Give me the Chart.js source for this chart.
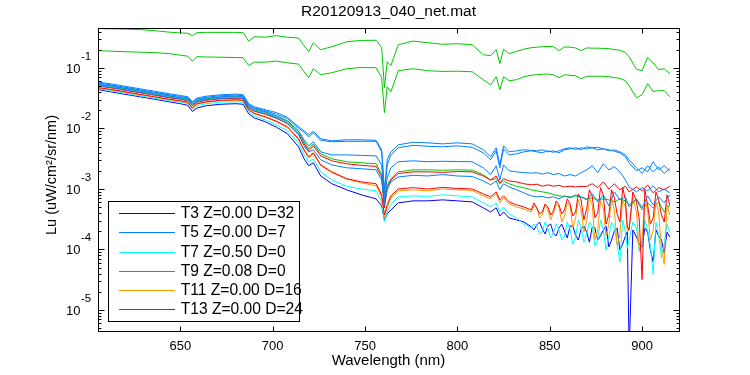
<!DOCTYPE html>
<html><head><meta charset="utf-8">
<script src="https://cdn.jsdelivr.net/npm/chart.js@4/dist/chart.umd.min.js"></script>
<style>html,body{margin:0;padding:0;background:#fff;}#wrap{width:750px;height:375px;}</style>
</head><body><div id="wrap"><canvas id="c" width="750" height="375"></canvas></div>
<script>
// ---- data ----
const wavelength = [606,612,620,628,636,644,650,654,656.5,659,664,672,680,684,687,690,696,702,708,714,717,719.5,722,726,732,740,748,756,759,760.5,762,764,768,776,784,792,800,808,814,818,821,823,825,828,832,836,840,843,846,849,852,855,858,861,864,867,870,873,876,879,882,885,888,891,893,897,900,903,906,909,912,915];
// extra wavelengths read only for the noisy traces in the NIR part
const wavelengthNoisy = [841.5,844.5,847.5,850.5,853.5,856.5,859.5,862.5,865.5,868.5,871.5,874.5,877.5,880.5,883.5,886.5,889.5,892,895,898.5,901.5,904.5,907.5,910.5,913.5];

const t3 = [0.0437,0.0405,0.0368,0.0335,0.0305,0.0276,0.0257,0.0242,0.0191,0.0218,0.0238,0.0252,0.0257,0.0252,0.0175,0.015,0.0129,0.0105,0.00817,0.00498,0.00315,0.00242,0.00271,0.00164,0.00122,0.00097,0.000799,0.000686,0.000526,0.000308,0.000386,0.00045,0.000589,0.000636,0.000636,0.00066,0.000636,0.000612,0.000488,0.000416,0.000488,0.000358,0.000416,0.000332,0.000308,0.000284,0.000238,0.000255,0.000218,0.000244,0.000187,0.000226,0.000202,0.000244,0.000173,0.000218,0.000194,0.000235,0.000143,0.000209,0.00011,0.000202,0.0000981,0.000167,0.000002,0.00016,0.00011,0.000194,0.0000622,0.000167,0.0000875,0.00016];
const t3Noisy = [0.00021,0.000284,0.00018,0.000263,0.000167,0.000263,0.000155,0.000244,0.000143,0.000244,0.000132,0.000226,0.000167,0.000244,0.000143,0.000226,0.000122,0.000194,0.00021,0.000122,0.000226,0.0000981,0.00021,0.000143,0.000194];

const t5 = [0.054,0.051,0.0464,0.0421,0.0383,0.0348,0.0326,0.031,0.0257,0.0293,0.0316,0.0335,0.0344,0.0335,0.0238,0.0212,0.0189,0.0162,0.0134,0.00916,0.0065,0.00517,0.00603,0.00411,0.00366,0.00366,0.00359,0.00352,0.0025,0.00066,0.00153,0.00224,0.00282,0.00292,0.00282,0.00287,0.00284,0.00282,0.00224,0.00173,0.00242,0.00141,0.0025,0.002,0.00192,0.00186,0.00183,0.00186,0.00176,0.00186,0.00173,0.0018,0.00164,0.00173,0.00164,0.00186,0.00207,0.00242,0.00186,0.00261,0.00207,0.00233,0.00192,0.00141,0.00108,0.000896,0.00105,0.000931,0.00113,0.000896,0.001,0.000862];

const t7 = [0.0454,0.0421,0.0383,0.0348,0.0316,0.0288,0.0272,0.0257,0.0204,0.0238,0.0257,0.0272,0.0276,0.0272,0.0189,0.0162,0.0139,0.0115,0.00916,0.00579,0.00366,0.00282,0.00315,0.00192,0.00141,0.00111,0.001,0.000931,0.000612,0.000284,0.000416,0.000565,0.00074,0.000769,0.000754,0.000799,0.000769,0.00074,0.000589,0.000504,0.000589,0.000416,0.000504,0.000386,0.000332,0.000263,0.000226,0.000244,0.000194,0.000226,0.000187,0.000209,0.000167,0.000218,0.00016,0.000226,0.00018,0.000244,0.000143,0.000209,0.000167,0.000226,0.0000622,0.000194,0.000143,0.000226,0.000118,0.000209,0.0000386,0.000173,0.000122,0.000194];
const t7Noisy = [0.000263,0.00018,0.000284,0.000155,0.000263,0.000143,0.000284,0.000122,0.000308,0.000132,0.000284,0.000113,0.000308,0.0000981,0.000284,0.000122,0.000308,0.000104,0.000284,0.0000909,0.000308,0.000113,0.000284,0.0000723,0.000263];

const t9 = [0.0529,0.0499,0.0454,0.0413,0.0375,0.0342,0.0322,0.0305,0.0252,0.0288,0.031,0.0329,0.0335,0.0329,0.0229,0.0204,0.0183,0.0156,0.0129,0.00882,0.00603,0.00461,0.00557,0.00381,0.00315,0.00282,0.00271,0.00261,0.00173,0.000547,0.00115,0.00148,0.00192,0.00207,0.00207,0.00204,0.00207,0.00204,0.00173,0.00141,0.00148,0.00122,0.00136,0.00122,0.00111,0.00105,0.00097,0.000931,0.000896,0.000862,0.000812,0.000769,0.000754,0.00074,0.000769,0.00074,0.000686,0.000712,0.00066,0.000686,0.00066,0.000612,0.000686,0.000636,0.000547,0.00066,0.00045,0.000589,0.000488,0.000612,0.000416,0.000547];

const t11 = [0.0464,0.0437,0.0398,0.0361,0.0329,0.0299,0.0282,0.0267,0.0216,0.0252,0.0272,0.0288,0.0293,0.0288,0.02,0.0175,0.0153,0.0129,0.0103,0.0065,0.00427,0.00327,0.00381,0.00242,0.00186,0.00146,0.00126,0.00113,0.00074,0.000332,0.000485,0.000712,0.000931,0.00097,0.000931,0.001,0.00097,0.000948,0.000769,0.000686,0.00083,0.000589,0.000712,0.000565,0.000504,0.000467,0.000416,0.000485,0.000372,0.00045,0.000401,0.000504,0.000358,0.000526,0.000332,0.00045,0.000284,0.000547,0.000209,0.000485,0.000255,0.00045,0.000173,0.000504,0.000226,0.000416,0.000143,0.00045,0.000209,0.000416,0.0000565,0.000372];
const t11Noisy = [0.000526,0.000332,0.000547,0.000308,0.000565,0.000284,0.000589,0.000226,0.00066,0.000194,0.000712,0.000143,0.00066,0.000167,0.000712,0.000119,0.00066,0.000194,0.000712,0.0000981,0.00066,0.000143,0.000612,0.000104,0.000547];

const t13 = [0.0472,0.0445,0.0405,0.0368,0.0335,0.0305,0.0288,0.0272,0.022,0.0257,0.0276,0.0293,0.0299,0.0293,0.0204,0.0179,0.0156,0.0132,0.0107,0.00675,0.00444,0.0034,0.00396,0.0025,0.00192,0.00148,0.00131,0.00122,0.000799,0.000372,0.000547,0.000769,0.001,0.00105,0.001,0.00106,0.00102,0.001,0.00083,0.00074,0.000896,0.00066,0.000769,0.000612,0.000547,0.000504,0.00045,0.000485,0.000416,0.000504,0.000432,0.000547,0.00045,0.000565,0.000416,0.00066,0.000467,0.000769,0.000401,0.000799,0.000372,0.000712,0.000284,0.00066,0.000209,0.000612,0.0000318,0.000547,0.00033,0.00066,0.000284,0.000547];
const t13Noisy = [0.000589,0.000386,0.000565,0.000372,0.000636,0.000386,0.000686,0.000358,0.00083,0.000308,0.00097,0.000332,0.00105,0.000263,0.00097,0.000386,0.00105,0.000244,0.000896,0.000308,0.00097,0.000263,0.000896,0.000372,0.000799];

// further unlabelled traces
const greenTop = [0.449,0.445,0.44,0.432,0.415,0.392,0.38,0.377,0.343,0.384,0.389,0.389,0.389,0.384,0.277,0.33,0.323,0.343,0.323,0.314,0.234,0.186,0.262,0.201,0.225,0.272,0.286,0.288,0.217,0.0472,0.127,0.11,0.243,0.279,0.262,0.247,0.252,0.243,0.166,0.16,0.201,0.118,0.205,0.173,0.188,0.205,0.217,0.221,0.225,0.228,0.225,0.194,0.223,0.221,0.215,0.194,0.215,0.213,0.213,0.211,0.209,0.201,0.197,0.18,0.154,0.095,0.09,0.151,0.121,0.0937,0.0973,0.0805];

const greenLow = [0.194,0.19,0.186,0.183,0.18,0.173,0.163,0.157,0.13,0.154,0.152,0.151,0.149,0.148,0.11,0.125,0.125,0.13,0.122,0.116,0.0868,0.0691,0.0974,0.0775,0.0836,0.0974,0.102,0.101,0.0691,0.0183,0.049,0.0405,0.0902,0.0974,0.0902,0.0878,0.0885,0.0868,0.064,0.0529,0.0718,0.0437,0.0718,0.0616,0.064,0.0718,0.076,0.0775,0.079,0.0796,0.0775,0.0691,0.0775,0.076,0.0745,0.0665,0.0731,0.0731,0.0731,0.0731,0.0718,0.0691,0.0678,0.0616,0.051,0.0322,0.0362,0.055,0.041,0.0421,0.0425,0.0335];

const blueA = [0.0583,0.055,0.0499,0.0454,0.0413,0.0375,0.0352,0.0335,0.0279,0.0318,0.0342,0.0361,0.0371,0.0361,0.0257,0.0229,0.0204,0.0183,0.0153,0.0107,0.00916,0.00787,0.00899,0.00675,0.00626,0.0065,0.0065,0.00638,0.00444,0.00097,0.00303,0.00411,0.00537,0.00591,0.00579,0.00557,0.00579,0.00557,0.00444,0.0034,0.0048,0.0025,0.00517,0.00411,0.00427,0.00444,0.00436,0.00427,0.00444,0.00411,0.00427,0.00396,0.00444,0.00461,0.0048,0.00444,0.00498,0.0048,0.00489,0.00461,0.00444,0.0042,0.00396,0.0034,0.0027,0.002,0.00224,0.00192,0.00282,0.00207,0.00242,0.002];

const blueB = [0.056,0.0529,0.0481,0.0437,0.0398,0.0361,0.0339,0.0322,0.027,0.0307,0.0329,0.0348,0.0357,0.0348,0.0247,0.022,0.0196,0.0172,0.0145,0.0101,0.00865,0.00729,0.00849,0.00638,0.00603,0.00614,0.00614,0.00614,0.00411,0.000799,0.0025,0.00366,0.0048,0.00527,0.00508,0.00498,0.00517,0.00489,0.00396,0.00303,0.00427,0.00224,0.00461,0.00366,0.00381,0.00411,0.00427,0.00411,0.00396,0.00427,0.00404,0.00427,0.00461,0.0048,0.00452,0.0048,0.00461,0.0048,0.00444,0.00461,0.00427,0.00444,0.00411,0.00366,0.00303,0.00224,0.0018,0.00242,0.00192,0.00233,0.0018,0.00216];

const blueC = [0.051,0.0481,0.0437,0.0398,0.0361,0.0329,0.031,0.0293,0.0242,0.0276,0.0299,0.0316,0.0322,0.0316,0.022,0.0196,0.0175,0.015,0.012,0.00787,0.00517,0.00411,0.00444,0.00303,0.0025,0.00224,0.00216,0.00207,0.00141,0.000547,0.00097,0.00131,0.00158,0.00168,0.00164,0.00173,0.00164,0.00161,0.00136,0.00117,0.00136,0.00097,0.00122,0.00108,0.00097,0.000862,0.000769,0.00074,0.000754,0.000712,0.00074,0.000686,0.000769,0.000712,0.000799,0.00074,0.00066,0.00083,0.000612,0.000799,0.000526,0.000896,0.00066,0.00074,0.000507,0.000686,0.000488,0.000769,0.000547,0.00074,0.000589,0.000799];

const redThin = [0.0499,0.0472,0.0429,0.039,0.0355,0.0322,0.0305,0.0288,0.0238,0.0272,0.0293,0.031,0.0316,0.031,0.0216,0.0193,0.0172,0.0147,0.0122,0.00817,0.00557,0.00427,0.00517,0.00352,0.00292,0.00261,0.00246,0.00236,0.00158,0.000485,0.00105,0.00141,0.0018,0.00192,0.00192,0.00188,0.00194,0.00192,0.00164,0.00141,0.00164,0.00126,0.00148,0.00136,0.00131,0.00122,0.00117,0.0012,0.00111,0.00117,0.00111,0.00115,0.00108,0.00111,0.00108,0.0011,0.0011,0.00122,0.00105,0.00131,0.001,0.00122,0.00097,0.00111,0.000896,0.00108,0.000931,0.00117,0.000862,0.00105,0.00097,0.00111];

const legendLabels = ['T3 Z=0.00 D=32','T5 Z=0.00 D=7','T7 Z=0.50 D=0','T9 Z=0.08 D=0','T11 Z=0.00 D=16','T13 Z=0.00 D=24'];
const xTicks = [650,700,750,800,850,900];
const yDecades = [-5,-4,-3,-2,-1];
const chartTitle = 'R20120913_040_net.mat';
const xTitle = 'Wavelength (nm)';
const yTitle = 'Lu (uW/cm\u00B2/sr/nm)';
const X_MIN = 605.4, X_MAX = 920, Y_MIN = 4.48e-6, Y_MAX = 0.459;

// ---- colours ----
const C_DARKBLUE = '#0000FF', C_BLUE = '#0080FF', C_CYAN = '#00FFFF', C_GREEN = '#00C800', C_ORANGE = '#FF9900', C_RED = '#FF0000';
const FONT = '"Liberation Sans", Arial, Helvetica, sans-serif';

function mk(label, vals, color, order, noisyVals) {
  let pts = wavelength.map((w, i) => ({x: w, y: vals[i]}));
  if (noisyVals) {
    pts = pts.concat(wavelengthNoisy.map((w, i) => ({x: w, y: noisyVals[i]})));
    pts.sort((p, q) => p.x - q.x);
  }
  return {
    label: label,
    data: pts,
    borderColor: color, backgroundColor: color,
    borderWidth: 1, pointRadius: 0, pointHoverRadius: 0,
    tension: 0, fill: false, order: order, clip: 0
  };
}

const datasets = [
  mk(legendLabels[0], t3, C_DARKBLUE, 10, t3Noisy),
  mk(legendLabels[1], t5, C_BLUE, 3),
  mk(legendLabels[2], t7, C_CYAN, 9, t7Noisy),
  mk(legendLabels[3], t9, C_GREEN, 8),
  mk(legendLabels[4], t11, C_ORANGE, 7, t11Noisy),
  mk(legendLabels[5], t13, C_RED, 6, t13Noisy),
  mk('', redThin, C_RED, 5),
  mk('', blueA, C_BLUE, 1),
  mk('', blueB, C_BLUE, 2),
  mk('', blueC, C_BLUE, 4),
  mk('', greenTop, C_GREEN, 11),
  mk('', greenLow, C_GREEN, 12)
];

const axesPlugin = {
  id: 'matlabAxes',
  afterDatasetsDraw(chart) {
    const ctx = chart.ctx, a = chart.chartArea, x = chart.scales.x, y = chart.scales.y;
    ctx.save();
    ctx.strokeStyle = '#000'; ctx.lineWidth = 1;
    const L = Math.round(a.left) + 0.5, R = Math.round(a.right) + 0.5, T = Math.round(a.top) + 0.5, B = Math.round(a.bottom) + 0.5;
    ctx.strokeRect(L, T, R - L, B - T);
    ctx.beginPath();
    xTicks.forEach(v => {
      const px = Math.round(x.getPixelForValue(v)) + 0.5;
      ctx.moveTo(px, B); ctx.lineTo(px, B - 5);
      ctx.moveTo(px, T); ctx.lineTo(px, T + 5);
    });
    for (let e = -6; e <= 0; e++) {
      for (let k = 1; k <= 9; k++) {
        const v = k * Math.pow(10, e);
        if (v < Y_MIN || v > Y_MAX) continue;
        const py = Math.round(y.getPixelForValue(v)) + 0.5;
        const len = k === 1 ? 6 : 3;
        ctx.moveTo(L, py); ctx.lineTo(L + len, py);
        ctx.moveTo(R, py); ctx.lineTo(R - len, py);
      }
    }
    ctx.stroke();
    ctx.fillStyle = '#000';
    ctx.textBaseline = 'alphabetic';
    ctx.font = '13px ' + FONT; ctx.textAlign = 'center';
    xTicks.forEach(v => ctx.fillText(String(v), x.getPixelForValue(v), 350));
    yDecades.forEach(e => {
      const py = y.getPixelForValue(Math.pow(10, e));
      ctx.font = '13px ' + FONT; ctx.textAlign = 'right';
      ctx.fillText('10', 80.5, py + 4.7);
      ctx.font = '11.5px ' + FONT; ctx.textAlign = 'left';
      ctx.fillText(String(e), 81, py - 8);
    });
    ctx.restore();
  },
  afterDraw(chart) {
    const ctx = chart.ctx, a = chart.chartArea;
    ctx.save();
    ctx.fillStyle = '#000';
    ctx.textAlign = 'center'; ctx.textBaseline = 'middle';
    ctx.font = '15.5px ' + FONT;
    ctx.fillText(chartTitle, (a.left + a.right) / 2, 11.5);
    ctx.font = '15px ' + FONT;
    ctx.fillText(xTitle, (a.left + a.right) / 2, 361);
    ctx.save();
    ctx.translate(51.5, 175);
    ctx.rotate(-Math.PI / 2);
    ctx.font = '14.5px ' + FONT;
    ctx.fillText(yTitle, 0, 0);
    ctx.restore();
    // legend
    const bx = 108.5, by = 201.5, bw = 191, bh = 120;
    ctx.fillStyle = '#fff';
    ctx.fillRect(bx, by, bw, bh);
    ctx.strokeStyle = '#000'; ctx.lineWidth = 1;
    ctx.strokeRect(bx, by, bw, bh);
    ctx.font = '15.6px ' + FONT;
    ctx.textAlign = 'left'; ctx.textBaseline = 'middle';
    for (let i = 0; i < legendLabels.length; i++) {
      const ds = chart.data.datasets[i];
      const ry = Math.round(213.3 + i * 19.15) + 0.5;
      ctx.strokeStyle = ds.borderColor; ctx.lineWidth = 1;
      ctx.beginPath(); ctx.moveTo(119, ry); ctx.lineTo(175, ry); ctx.stroke();
      ctx.fillStyle = '#000';
      ctx.fillText(legendLabels[i], 180.7, ry + 0.5);
    }
    ctx.restore();
  }
};

new Chart(document.getElementById('c'), {
  type: 'line',
  data: { datasets: datasets },
  options: {
    responsive: false,
    devicePixelRatio: 1,
    animation: false,
    events: [],
    layout: { padding: { left: 98, top: 28, right: 71, bottom: 44 } },
    plugins: { legend: { display: false }, tooltip: { enabled: false }, title: { display: false } },
    scales: {
      x: { type: 'linear', min: X_MIN, max: X_MAX, display: false },
      y: { type: 'logarithmic', min: Y_MIN, max: Y_MAX, display: false }
    }
  },
  plugins: [axesPlugin]
});
</script>
</body></html>
